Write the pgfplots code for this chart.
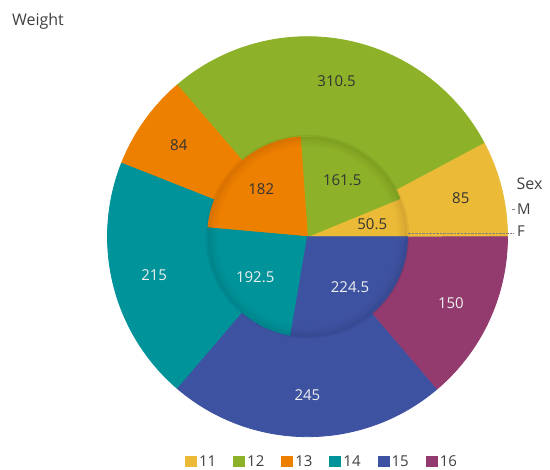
\documentclass[border=0pt]{standalone}
\usepackage{fontspec}
\setmainfont{Open Sans}
\usepackage{pgfplots}
\usepackage{pgfplotstable}
\pgfplotsset{compat=1.18}
\definecolor{c0}{HTML}{EBBB38}
\definecolor{c1}{HTML}{8DB229}
\definecolor{c2}{HTML}{EE8000}
\definecolor{c3}{HTML}{00939A}
\definecolor{c4}{HTML}{3E52A2}
\definecolor{c5}{HTML}{933B6E}
\definecolor{tc0}{HTML}{333333}
\definecolor{tc1}{HTML}{333333}
\definecolor{tc2}{HTML}{333333}
\definecolor{tc3}{HTML}{F0F0F0}
\definecolor{tc4}{HTML}{F0F0F0}
\definecolor{tc5}{HTML}{F0F0F0}
\definecolor{txt}{HTML}{404040}

% Weight by age (cat) for the two rings: inner and outer
\pgfplotstableread{
cat inner outer
11 50.5 85
12 161.5 310.5
13 182 84
14 192.5 215
15 224.5 245
16 0 150
}\weights

% ring segment from radius #2 to #3, angle #4 to #5, colour #6, extra options #1
\newcommand{\seg}[6][]{%
 \addplot[fill=#6, draw=none, domain=0:2, samples=181, forget plot, #1]
   ({ifthenelse(x<1, #3*cos(#4+(#5-#4)*x), #2*cos(#5-(#5-#4)*(x-1)))},
    {ifthenelse(x<1, #3*sin(#4+(#5-#4)*x), #2*sin(#5-(#5-#4)*(x-1)))}) -- cycle;
}
\newcommand{\lblfont}{\fontsize{15}{18}\selectfont}

\begin{document}
\begin{tikzpicture}
\gdef\totI{0}\gdef\totO{0}
\foreach \i in {0,...,5}{%
  \pgfplotstablegetelem{\i}{inner}\of\weights
  \pgfmathsetmacro\tmpv{\totI+\pgfplotsretval}\global\let\totI\tmpv
  \pgfplotstablegetelem{\i}{outer}\of\weights
  \pgfmathsetmacro\tmpv{\totO+\pgfplotsretval}\global\let\totO\tmpv
}
\gdef\cumI{0}\gdef\cumO{0}
\foreach \i in {0,...,5}{%
  \pgfplotstablegetelem{\i}{inner}\of\weights
  \expandafter\xdef\csname iv\i\endcsname{\pgfplotsretval}%
  \pgfmathsetmacro\tmpv{\cumI+\pgfplotsretval/\totI*360}%
  \expandafter\xdef\csname ia\i\endcsname{\cumI}%
  \expandafter\xdef\csname ib\i\endcsname{\tmpv}%
  \global\let\cumI\tmpv
  \pgfplotstablegetelem{\i}{outer}\of\weights
  \expandafter\xdef\csname ov\i\endcsname{\pgfplotsretval}%
  \pgfmathsetmacro\tmpv{\cumO+\pgfplotsretval/\totO*360}%
  \expandafter\xdef\csname oa\i\endcsname{\cumO}%
  \expandafter\xdef\csname ob\i\endcsname{\tmpv}%
  \global\let\cumO\tmpv
}
\begin{axis}[
  x=100pt, y=100pt,
  xmin=-3.075, xmax=2.425, ymin=-2.333, ymax=2.367,
  hide axis, enlargelimits=false, clip=false,
  legend columns=6,
  legend style={draw=none, fill=none, at={(axis cs:0.145,-2.25)}, anchor=center,
    font=\lblfont, text=txt,
    /tikz/every even column/.append style={column sep=15pt}},
  legend image code/.code={\fill[#1] (-2pt,-5.5pt) rectangle (10pt,6pt);},
]
% outer ring (full wedges, inner part covered by the inner disc)
\pgfplotsinvokeforeach{0,...,5}{
  \seg[draw=c#1, line width=0.8pt, line join=round]{0.5}{2}{\csname oa#1\endcsname}{\csname ob#1\endcsname}{c#1}
}
% faint shadow of inner disc on outer ring
\seg[fill opacity=0.05]{1}{1.02}{0}{360}{black}
\seg[fill opacity=0.04]{1}{1.008}{0}{360}{black}
% inner disc
\pgfplotsinvokeforeach{0,...,4}{
  \seg[draw=c#1, line width=0.8pt, line join=round]{0}{1}{\csname ia#1\endcsname}{\csname ib#1\endcsname}{c#1}
}
% soft rim shading of inner disc
\pgfplotsinvokeforeach{0.90,0.915,0.93,0.945,0.96,0.97,0.98,0.99}{
  \seg[fill opacity=0.013]{#1}{1}{0}{360}{black}
}
% radial axis guide
\addplot[gray, densely dotted, forget plot] coordinates {(1.0,0.03) (2.06,0.03)};
\addplot[gray, forget plot] coordinates {(2.04,0.275) (2.07,0.275)};
% labels
\pgfplotsinvokeforeach{0,...,5}{
  \node[text=tc#1, font=\lblfont] at (axis cs:{1.58*cos((\csname oa#1\endcsname+\csname ob#1\endcsname)/2)},{1.58*sin((\csname oa#1\endcsname+\csname ob#1\endcsname)/2)}) {\csname ov#1\endcsname};
}
\pgfplotsinvokeforeach{0,...,4}{
  \node[text=tc#1, font=\lblfont] at (axis cs:{0.66*cos((\csname ia#1\endcsname+\csname ib#1\endcsname)/2)},{0.66*sin((\csname ia#1\endcsname+\csname ib#1\endcsname)/2)}) {\csname iv#1\endcsname};
}
\node[anchor=west, font=\fontsize{16}{19}\selectfont, text=txt] at (axis cs:-2.99,2.15) {Weight};
\node[anchor=west, font=\fontsize{16}{19}\selectfont, text=txt, inner sep=0pt] at (axis cs:2.09,0.534) {Sex};
\node[anchor=west, font=\fontsize{15}{18}\selectfont, text=txt, inner sep=0pt] at (axis cs:2.095,0.275) {M};
\node[anchor=west, font=\fontsize{15}{18}\selectfont, text=txt, inner sep=0pt] at (axis cs:2.095,0.055) {F};
% legend
\addlegendimage{fill=c0, draw=none}\addlegendentry{11}
\addlegendimage{fill=c1, draw=none}\addlegendentry{12}
\addlegendimage{fill=c2, draw=none}\addlegendentry{13}
\addlegendimage{fill=c3, draw=none}\addlegendentry{14}
\addlegendimage{fill=c4, draw=none}\addlegendentry{15}
\addlegendimage{fill=c5, draw=none}\addlegendentry{16}
\end{axis}
\pgfresetboundingbox
\path (current axis.south west) rectangle (current axis.north east);
\end{tikzpicture}
\end{document}
